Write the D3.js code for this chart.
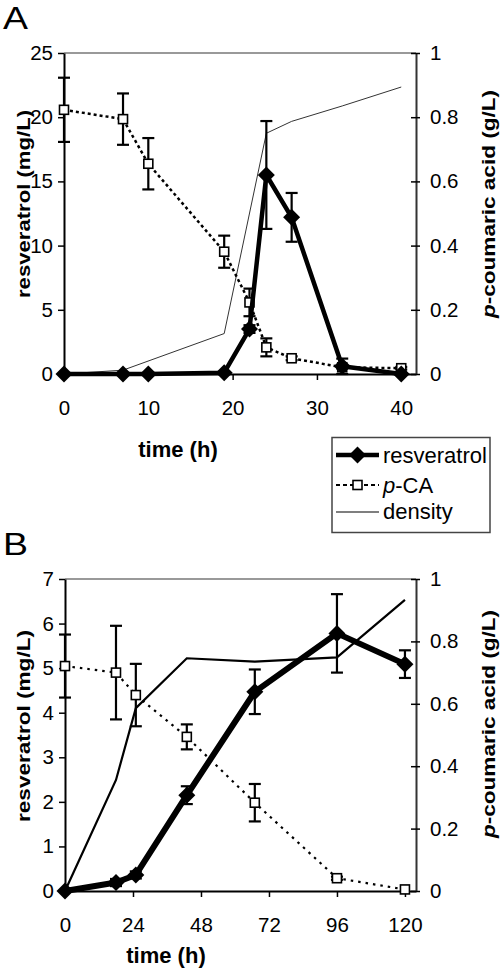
<!DOCTYPE html>
<html><head><meta charset="utf-8">
<script src="https://cdn.jsdelivr.net/npm/d3@7"></script>
<style>body{margin:0;background:#fff}svg{display:block}text{font-family:"Liberation Sans",Arial,sans-serif}</style>
</head><body><svg id="c" width="500" height="971"></svg>
<script>
// Panel A data
const aTime = [0, 7, 10, 19, 22, 24, 27, 33, 40];
const aResv = [0, 0, 0, 0.1, 3.5, 15.5, 12.2, 0.6, 0];
const aResvErr = [0, 0, 0, 0, 0.3, 4.2, 1.9, 0.6, 0];
const aPca = [0.823, 0.794, 0.655, 0.381, 0.223, 0.083, 0.049, 0.021, 0.018];
const aPcaErr = [0.1, 0.08, 0.08, 0.05, 0.043, 0.028, 0.006, 0.004, 0.004];
const aDensTime = [0, 7, 19, 24, 27, 33, 40];
const aDens = [0, 0.012, 0.126, 0.75, 0.787, 0.835, 0.894];
const aXTicks = [0, 10, 20, 30, 40];
const aLeftTicks = [0, 5, 10, 15, 20, 25];
// Panel B data
const bTime = [0, 18, 25, 43, 67, 96, 120];
const bResv = [0, 0.19, 0.36, 2.15, 4.47, 5.78, 5.09];
const bResvErr = [0, 0.08, 0.08, 0.2, 0.5, 0.88, 0.31];
const bPca = [0.721, 0.70, 0.628, 0.494, 0.283, 0.041, 0.005];
const bPcaErr = [0.101, 0.15, 0.1, 0.04, 0.06, 0.005, 0];
const bDens = [0, 0.356, 0.586, 0.746, 0.735, 0.749, 0.933];
const bXTicks = [0, 24, 48, 72, 96, 120];
const bLeftTicks = [0, 1, 2, 3, 4, 5, 6, 7];
const rightTicks = [0, 0.2, 0.4, 0.6, 0.8, 1];
const legendLabels = ["resveratrol", "p-CA", "density"];

const svg = d3.select("#c");

function panel(o) {
  const x = d3.scaleLinear().domain([0, o.xMax]).range([o.left, o.right]);
  const yL = d3.scaleLinear().domain([0, o.yMax]).range([o.bottom, o.top]);
  const yR = d3.scaleLinear().domain([0, 1]).range([o.bottom, o.top]);
  const g = svg.append("g");
  g.append("line").attr("x1", o.left).attr("x2", o.right).attr("y1", o.top).attr("y2", o.top)
    .attr("stroke", "#999").attr("stroke-width", 2);
  const ax = g.append("g").attr("transform", `translate(0,${o.bottom})`)
    .call(d3.axisBottom(x).tickValues(o.xTicks).tickSize(6).tickSizeOuter(0).tickPadding(20).tickFormat(d3.format("d")));
  const al = g.append("g").attr("transform", `translate(${o.left},0)`)
    .call(d3.axisLeft(yL).tickValues(o.yTicks).tickSize(6).tickSizeOuter(0).tickPadding(5).tickFormat(d3.format("d")));
  const ar = g.append("g").attr("transform", `translate(${o.right},0)`)
    .call(d3.axisRight(yR).tickValues(rightTicks).tickSize(4).tickSizeOuter(0).tickPadding(10).tickFormat(d => d === 0 ? "0" : d === 1 ? "1" : d3.format(".1f")(d)));
  ar.selectAll(".tick line").attr("x1", -5);
  [ax, al, ar].forEach(a => {
    a.select(".domain").attr("stroke", a === ar ? "#333" : "#000").attr("stroke-width", 2);
    a.selectAll(".tick line").attr("stroke", "#000").attr("stroke-width", 1.5);
    a.selectAll(".tick text").attr("font-size", 20.5).attr("fill", "#000").style("font-family", '"Liberation Sans",Arial,sans-serif');
  });

  g.append("path").datum(o.densT.map((t, i) => [t, o.dens[i]]))
    .attr("fill", "none").attr("stroke", o.densColor).attr("stroke-width", o.densW)
    .attr("d", d3.line().x(d => x(d[0])).y(d => yR(d[1])));
  g.append("path").datum(o.t.map((t, i) => [t, o.pca[i]]))
    .attr("fill", "none").attr("stroke", "#000").attr("stroke-width", o.pcaW).attr("stroke-dasharray", o.pcaDash)
    .attr("d", d3.line().x(d => x(d[0])).y(d => yR(d[1])));
  const cap = 6;
  o.t.forEach((t, i) => {
    const e = o.pcaErr[i];
    if (e <= 0) return;
    const xx = x(t), y1 = yR(o.pca[i] + e), y2 = yR(o.pca[i] - e);
    g.append("line").attr("x1", xx).attr("x2", xx).attr("y1", y1).attr("y2", y2).attr("stroke", "#000").attr("stroke-width", 2.2);
    [y1, y2].forEach(yy => g.append("line").attr("x1", xx - cap).attr("x2", xx + cap).attr("y1", yy).attr("y2", yy).attr("stroke", "#000").attr("stroke-width", 2.2));
  });
  g.selectAll(null).data(o.t.map((t, i) => [t, o.pca[i]])).enter().append("rect")
    .attr("x", d => x(d[0]) - 4.5).attr("y", d => yR(d[1]) - 4.5).attr("width", 9).attr("height", 9)
    .attr("fill", "#fff").attr("stroke", "#000").attr("stroke-width", 1.6);
  g.append("path").datum(o.t.map((t, i) => [t, o.resv[i]]))
    .attr("fill", "none").attr("stroke", "#000").attr("stroke-width", o.resvW).attr("stroke-linejoin", "round")
    .attr("d", d3.line().x(d => x(d[0])).y(d => yL(d[1])));
  o.t.forEach((t, i) => {
    const e = o.resvErr[i];
    if (e <= 0) return;
    const xx = x(t), y1 = yL(o.resv[i] + e), y2 = yL(o.resv[i] - e);
    g.append("line").attr("x1", xx).attr("x2", xx).attr("y1", y1).attr("y2", y2).attr("stroke", "#000").attr("stroke-width", 2.2);
    [y1, y2].forEach(yy => g.append("line").attr("x1", xx - cap).attr("x2", xx + cap).attr("y1", yy).attr("y2", yy).attr("stroke", "#000").attr("stroke-width", 2.2));
  });
  g.selectAll(null).data(o.t.map((t, i) => [t, o.resv[i]])).enter().append("path")
    .attr("d", d => `M${x(d[0])},${yL(d[1]) - 8.5}L${x(d[0]) + 8.5},${yL(d[1])}L${x(d[0])},${yL(d[1]) + 8.5}L${x(d[0]) - 8.5},${yL(d[1])}Z`)
    .attr("fill", "#000");

  g.append("text").attr("x", o.xTitleX).attr("y", o.xTitleY).attr("text-anchor", "middle")
    .attr("font-size", 22).attr("font-weight", "bold").text("time (h)");
  g.append("text").attr("transform", `translate(30,${o.leftMid}) rotate(-90)`).attr("text-anchor", "middle")
    .attr("font-size", 19).attr("font-weight", "bold")
    .attr("textLength", o.leftLen).attr("lengthAdjust", "spacingAndGlyphs").text("resveratrol (mg/L)");
  const rt = g.append("text").attr("transform", `translate(495,${o.rightMid}) rotate(-90)`).attr("text-anchor", "middle")
    .attr("font-size", 19).attr("font-weight", "bold")
    .attr("textLength", o.rightLen).attr("lengthAdjust", "spacingAndGlyphs");
  rt.append("tspan").attr("font-style", "italic").text("p");
  rt.append("tspan").text("-coumaric acid (g/L)");
  g.append("text").attr("x", 3).attr("y", o.labelY).attr("font-size", 31)
    .attr("textLength", 25).attr("lengthAdjust", "spacingAndGlyphs").text(o.label);
}

panel({left: 64, right: 416, top: 53, bottom: 374, xMax: 41.75, yMax: 25,
  xTicks: aXTicks, yTicks: aLeftTicks, t: aTime, resv: aResv, resvErr: aResvErr,
  pca: aPca, pcaErr: aPcaErr, densT: aDensTime, dens: aDens,
  densColor: "#333", densW: 1, pcaW: 2.5, pcaDash: "3,3", resvW: 4.5,
  xTitleX: 178, xTitleY: 457, leftMid: 204, leftLen: 188, rightMid: 204, rightLen: 228, label: "A", labelY: 29});

panel({left: 65, right: 416, top: 579, bottom: 891, xMax: 123.9, yMax: 7,
  xTicks: bXTicks, yTicks: bLeftTicks, t: bTime, resv: bResv, resvErr: bResvErr,
  pca: bPca, pcaErr: bPcaErr, densT: bTime, dens: bDens,
  densColor: "#000", densW: 2.2, pcaW: 2.2, pcaDash: "2.5,5", resvW: 6,
  xTitleX: 166, xTitleY: 963, leftMid: 726, leftLen: 192, rightMid: 724, rightLen: 228, label: "B", labelY: 555});

const lg = svg.append("g");
lg.append("rect").attr("x", 332).attr("y", 437.5).attr("width", 158).attr("height", 95)
  .attr("fill", "#fff").attr("stroke", "#444").attr("stroke-width", 1.5);
const rows = [455, 485, 512];
const sx1 = 336, sx2 = 379, smid = 357.5;
lg.append("line").attr("x1", sx1).attr("x2", sx2).attr("y1", rows[0]).attr("y2", rows[0]).attr("stroke", "#000").attr("stroke-width", 4.5);
lg.append("path").attr("d", `M${smid},${rows[0]-8.5}L${smid+8.5},${rows[0]}L${smid},${rows[0]+8.5}L${smid-8.5},${rows[0]}Z`).attr("fill", "#000");
lg.append("line").attr("x1", sx1).attr("x2", sx2).attr("y1", rows[1]).attr("y2", rows[1]).attr("stroke", "#000").attr("stroke-width", 1.8).attr("stroke-dasharray", "4,3");
lg.append("rect").attr("x", smid - 4.5).attr("y", rows[1] - 4.5).attr("width", 9).attr("height", 9).attr("fill", "#fff").attr("stroke", "#000").attr("stroke-width", 1.6);
lg.append("line").attr("x1", sx1).attr("x2", sx2).attr("y1", rows[2]).attr("y2", rows[2]).attr("stroke", "#000").attr("stroke-width", 1.2);
lg.append("text").attr("x", 383).attr("y", 463).attr("font-size", 22).text(legendLabels[0]);
const lt1 = lg.append("text").attr("x", 383).attr("y", 493).attr("font-size", 22);
lt1.append("tspan").attr("font-style", "italic").text(legendLabels[1].slice(0, 1));
lt1.append("tspan").text(legendLabels[1].slice(1));
lg.append("text").attr("x", 383).attr("y", 519).attr("font-size", 22).text(legendLabels[2]);
</script></body></html>
